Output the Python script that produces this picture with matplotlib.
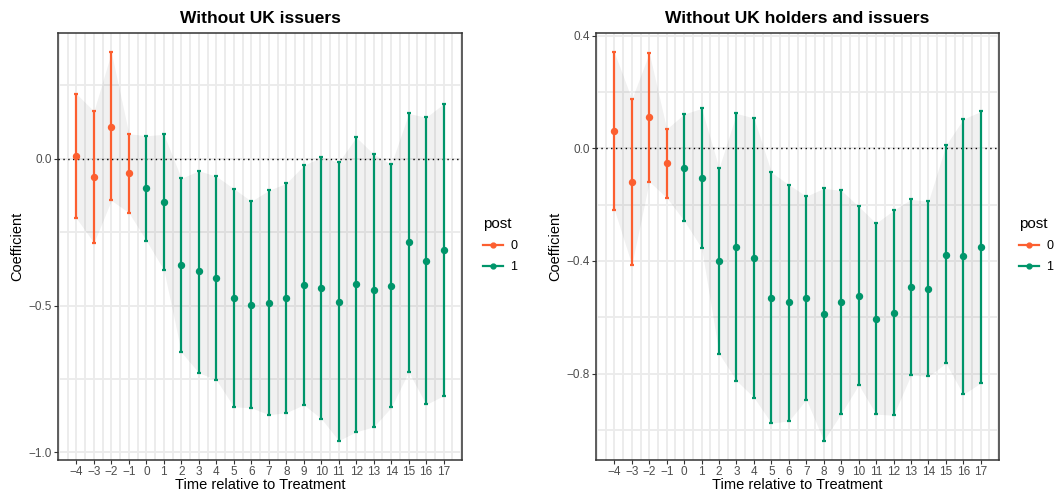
import numpy as np
import matplotlib
matplotlib.use("Agg")
import matplotlib.pyplot as plt
from matplotlib.lines import Line2D
from matplotlib.ticker import MultipleLocator

plt.rcParams['font.family'] = ['Liberation Sans', 'DejaVu Sans']
plt.rcParams['axes.unicode_minus'] = True

# event time
time = list(range(-4, 18))

# left panel: without UK issuers
est_a = [0.009, -0.061, 0.109, -0.050, -0.101, -0.148, -0.362, -0.384, -0.407, -0.473, -0.498,
         -0.490, -0.476, -0.431, -0.441, -0.487, -0.427, -0.448, -0.434, -0.284, -0.348, -0.310]
hi_a = [0.221, 0.162, 0.362, 0.085, 0.078, 0.083, -0.067, -0.041, -0.060, -0.102, -0.145,
        -0.108, -0.084, -0.023, 0.005, -0.012, 0.073, 0.015, -0.019, 0.154, 0.141, 0.187]
lo_a = [-0.203, -0.286, -0.142, -0.184, -0.279, -0.379, -0.659, -0.729, -0.753, -0.845, -0.848,
        -0.872, -0.865, -0.838, -0.885, -0.960, -0.930, -0.913, -0.847, -0.726, -0.837, -0.807]

# right panel: without UK holders and issuers
est_b = [0.062, -0.118, 0.111, -0.053, -0.069, -0.105, -0.399, -0.350, -0.388, -0.531, -0.547,
         -0.531, -0.589, -0.545, -0.523, -0.605, -0.584, -0.492, -0.498, -0.377, -0.384, -0.350]
hi_b = [0.341, 0.175, 0.339, 0.069, 0.122, 0.142, -0.070, 0.124, 0.108, -0.085, -0.129,
        -0.170, -0.142, -0.149, -0.206, -0.266, -0.220, -0.181, -0.188, 0.011, 0.104, 0.131]
lo_b = [-0.218, -0.413, -0.118, -0.175, -0.257, -0.354, -0.729, -0.825, -0.885, -0.976, -0.968,
        -0.892, -1.038, -0.942, -0.840, -0.944, -0.948, -0.805, -0.810, -0.763, -0.874, -0.833]

post_colors = {0: '#FC5F30', 1: '#00956A'}
grid_col = '#EBEBEB'


def panel(ax, est, lo, hi, title, ymajor):
    t = np.array(time)
    est, lo, hi = np.array(est), np.array(lo), np.array(hi)
    ax.fill_between(t, lo, hi, color='black', alpha=0.055, linewidth=0, zorder=2)
    ax.axhline(0, color='black', linestyle=(0, (1, 2.5)), linewidth=1, zorder=3)
    for p in (0, 1):
        m = (t >= 0) == bool(p)
        ax.errorbar(t[m], est[m], yerr=[est[m] - lo[m], hi[m] - est[m]], fmt='o',
                    color=post_colors[p], ms=4.3, elinewidth=1.6, capsize=1.2,
                    capthick=1.6, zorder=4)
    span = max(hi) - min(lo)
    ax.set_ylim(min(lo) - 0.05 * span, max(hi) + 0.05 * span)
    ax.set_xlim(-4 - 0.05 * 21, 17 + 0.05 * 21)
    ax.set_xticks(time)
    ax.set_xticklabels([str(v).replace('-', '\u2212') for v in time])
    ax.xaxis.set_minor_locator(MultipleLocator(0.5))
    ax.yaxis.set_major_locator(MultipleLocator(ymajor))
    ax.yaxis.set_minor_locator(MultipleLocator(ymajor / 2))
    ax.yaxis.set_major_formatter(matplotlib.ticker.FuncFormatter(
        lambda v, _: f'{v:.1f}'.replace('-', '\u2212')))
    ax.grid(True, which='both', color=grid_col, linewidth=1.3, zorder=0)
    ax.set_axisbelow(True)
    ax.tick_params(which='major', length=3, color='#333333', labelcolor='#4D4D4D',
                   labelsize=8.5, pad=1.5)
    ax.tick_params(which='minor', length=0)
    for s in ax.spines.values():
        s.set_color('#333333')
        s.set_linewidth(1.1)
    ax.set_title(title, fontsize=12.5, fontweight='bold', pad=7)
    ax.set_xlabel('Time relative to Treatment', fontsize=10.5, labelpad=0)
    ax.set_ylabel('Coefficient', fontsize=10.5, labelpad=3)


fig = plt.figure(figsize=(10.57, 4.92), dpi=100)
ax1 = fig.add_axes([0.0549, 0.065, 0.3822, 0.868])
ax2 = fig.add_axes([0.5639, 0.065, 0.3813, 0.868])
panel(ax1, est_a, lo_a, hi_a, 'Without UK issuers', 0.5)
panel(ax2, est_b, lo_b, hi_b, 'Without UK holders and issuers', 0.4)

handles = [Line2D([0], [0], color=post_colors[p], marker='o', ms=3.5, lw=1.6) for p in (0, 1)]
for xpos in (0.446, 0.953):
    leg = fig.legend(handles, ['0', '1'], title='post', loc='upper left',
                     bbox_to_anchor=(xpos, 0.581), frameon=False, fontsize=9,
                     title_fontsize=11, handlelength=1.6, handletextpad=0.6,
                     labelspacing=0.7, alignment='left')

fig.savefig('out.png', dpi=100)
